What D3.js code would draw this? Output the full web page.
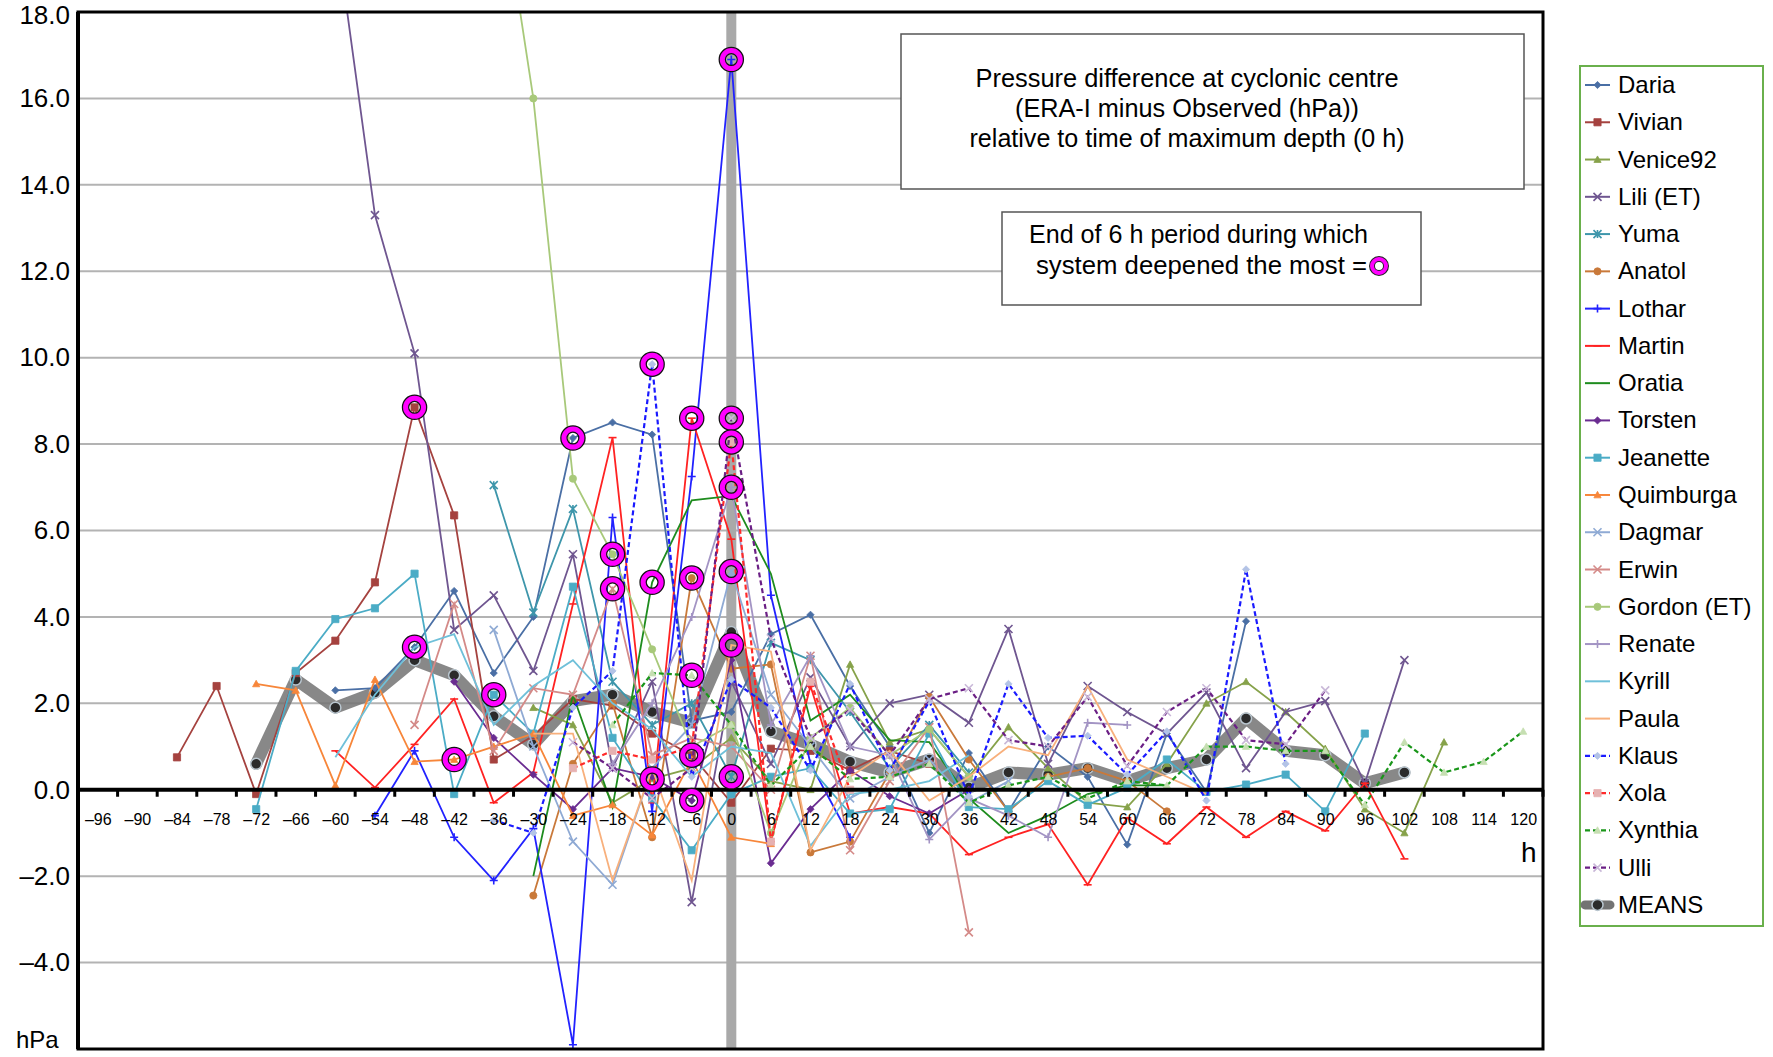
<!DOCTYPE html>
<html>
<head>
<meta charset="utf-8">
<script src="https://cdn.jsdelivr.net/npm/d3@7"></script>
<style>
  body { margin: 0; background: #fff; }
  svg { display: block; font-family: "Liberation Sans", Arial, Helvetica, sans-serif; }
</style>
</head>
<body>
<svg id="chart" width="1773" height="1057"></svg>
<script>
// categories (hours relative to max depth) and tick values
var hours = d3.range(-96, 121, 6);
var yTicks = [-4, -2, 0, 2, 4, 6, 8, 10, 12, 14, 16, 18];
var yTickLabels = ["–4.0", "–2.0", "0.0", "2.0", "4.0", "6.0", "8.0", "10.0", "12.0", "14.0", "16.0", "18.0"];
var xTickLabels = hours.map(function(h) { return h < 0 ? "–" + (-h) : "" + h; });

// series values: [hour, hPa]
var daria = [[-60,2.3],[-54,2.35],[-48,3.3],[-42,4.6],[-36,2.7],[-30,4.0],[-24,8.14],[-18,8.5],[-12,8.22],[-6,1.6],[0,1.8],[6,3.6],[12,4.05],[18,2.4],[24,1.0],[30,-1.0],[36,0.85],[42,-0.5],[48,1.0],[54,0.3],[60,-1.27],[66,1.3],[72,-0.05],[78,3.9]];
var vivian = [[-84,0.75],[-78,2.4],[-72,-0.1],[-66,2.7],[-60,3.45],[-54,4.8],[-48,8.85],[-42,6.35],[-36,0.7],[-30,1.25],[-24,2.1],[-18,1.95],[-12,1.3],[-6,0.8],[0,-0.3],[6,0.95],[12,0.9],[18,0.45],[24,0.9],[30,0.6]];
var venice92 = [[-30,1.9],[-24,1.5],[-18,-0.3],[-12,0.25],[-6,0.5],[0,1.2],[6,0.2],[12,0.0],[18,2.9],[24,1.1],[30,1.4],[36,0.3],[42,1.45],[48,0.5],[54,-0.3],[60,-0.4],[66,0.6],[72,2.0],[78,2.5],[84,1.8],[90,0.95],[96,-0.45],[102,-1.0],[108,1.1]];
var lili = [[-60,20.0],[-54,13.3],[-48,10.1],[-42,3.7],[-36,4.5],[-30,2.75],[-24,5.45],[-18,0.5],[-12,2.5],[-6,-2.6],[0,2.5],[6,0.6],[12,2.6],[18,1.0],[24,2.0],[30,2.2],[36,1.55],[42,3.72],[48,0.6],[54,2.4],[60,1.8],[66,1.3],[72,2.25],[78,0.5],[84,1.8],[90,2.05],[96,0.15],[102,3.0]];
var yuma = [[-36,7.05],[-30,4.1],[-24,6.5],[-18,2.5],[-12,1.5],[-6,2.0],[0,0.3],[6,3.4],[12,3.0],[18,1.8],[24,0.5],[30,1.5],[36,0.4]];
var anatol = [[-30,-2.45],[-24,0.6],[-18,2.0],[-12,-1.1],[-6,4.9],[0,2.8],[6,2.9],[12,-1.45],[18,-1.2],[24,0.4],[30,2.15],[36,0.7],[42,-0.5],[48,0.3],[54,0.5],[60,0.2],[66,-0.5]];
var lothar = [[-54,-0.6],[-48,0.9],[-42,-1.1],[-36,-2.1],[-30,-0.9],[-24,-5.9],[-18,6.3],[-12,-0.5],[-6,7.25],[0,16.9],[6,4.5],[12,0.6],[18,-1.1]];
var martin = [[-60,0.9],[-54,0.05],[-48,1.05],[-42,2.1],[-36,-0.3],[-30,0.4],[-24,4.3],[-18,8.15],[-12,-0.3],[-6,8.6],[0,5.8],[6,-1.2],[12,2.4],[18,-0.55],[24,-0.4],[30,-0.55],[36,-1.5],[42,-1.1],[48,-0.8],[54,-2.2],[60,-0.65],[66,-1.25],[72,-0.4],[78,-1.1],[84,-0.5],[90,-0.95],[96,0.15],[102,-1.6]];
var oratia = [[-30,-2.0],[-24,2.2],[-18,-0.4],[-12,4.8],[-6,6.7],[0,6.8],[6,5.0],[12,1.6],[18,2.2],[24,1.15],[30,1.1],[36,-0.2],[42,-1.0],[48,-0.6],[54,-0.1],[60,0.1],[66,0.1]];
var torsten = [[-42,2.5],[-36,1.2],[-30,0.35],[-24,-0.45],[-18,0.5],[-12,0.3],[-6,-0.25],[0,3.0],[6,-1.7],[12,-0.45],[18,0.45],[24,-0.15],[30,-0.55],[36,0.0]];
var jeanette = [[-72,-0.45],[-66,2.75],[-60,3.95],[-54,4.2],[-48,5.0],[-42,-0.1],[-36,2.2],[-30,1.3],[-24,4.7],[-18,1.2],[-12,-0.2],[-6,-1.4],[0,-0.1],[6,0.3],[12,0.5],[18,-0.55],[24,-0.45],[30,1.3],[36,-0.4],[42,-0.45],[48,0.2],[54,-0.35],[60,0.05],[66,0.7],[72,-0.05],[78,0.12],[84,0.35],[90,-0.5],[96,1.3]];
var quimburga = [[-72,2.45],[-66,2.3],[-60,0.1],[-54,2.55],[-48,0.65],[-42,0.7],[-36,1.0],[-30,1.3],[-24,-0.6],[-18,-0.35],[-12,-1.05],[-6,0.7],[0,-1.1],[6,-1.25]];
var dagmar = [[-36,3.7],[-30,1.0],[-24,-1.2],[-18,-2.2],[-12,0.5],[-6,1.5],[0,5.05],[6,2.2],[12,1.0],[18,-0.2],[24,0.3],[30,0.7],[36,-0.3],[42,0.2]];
var erwin = [[-48,1.5],[-42,4.3],[-36,0.9],[-30,2.35],[-24,2.2],[-18,4.65],[-12,0.8],[-6,1.2],[0,1.0],[6,0.0],[12,3.1],[18,-1.4],[24,0.2],[30,1.45],[36,-3.3]];
var gordon = [[-36,22.0],[-30,16.0],[-24,7.2],[-18,5.45],[-12,3.25],[-6,1.0],[0,1.5],[6,-1.0],[12,1.2],[18,1.9],[24,0.8],[30,1.4],[36,0.3]];
var renate = [[-18,0.6],[-12,2.0],[-6,4.0],[0,7.0],[6,1.5],[12,3.1],[18,1.0],[24,0.8],[30,-1.15],[36,-0.2],[42,-0.6],[48,-1.1],[54,1.55],[60,1.5]];
var kyrill = [[-60,0.75],[-54,2.2],[-48,3.3],[-42,3.6],[-36,1.5],[-30,2.4],[-24,3.0],[-18,2.0],[-12,1.4],[-6,0.3],[0,1.0],[6,0.85],[12,-1.3],[18,-0.1],[24,0.0],[30,0.2],[36,0.8]];
var paula = [[-30,1.3],[-24,1.3],[-18,-2.1],[-12,0.5],[-6,-2.1],[0,3.35],[6,3.2],[12,-1.4],[18,0.3],[24,0.9],[30,-0.25],[36,0.3],[42,1.0],[48,0.8],[54,2.4],[60,0.7],[66,0.3],[72,-0.1]];
var klaus = [[-36,-0.7],[-30,-1.0],[-24,1.9],[-18,2.75],[-12,9.85],[-6,0.3],[0,2.55],[6,1.9],[12,0.45],[18,2.45],[24,0.45],[30,2.05],[36,-0.15],[42,2.45],[48,1.2],[54,1.25],[60,0.35],[66,1.35],[72,-0.25],[78,5.1],[84,0.6]];
var xola = [[-24,0.5],[-18,0.9],[-12,0.7],[-6,1.0],[0,8.05],[6,-1.2],[12,2.5],[18,0.0]];
var xynthia = [[-18,1.5],[-12,2.7],[-6,2.65],[0,1.5],[6,0.1],[12,1.0],[18,0.25],[24,0.3],[30,0.6],[36,-0.3],[42,0.1],[48,0.3],[54,-0.2],[60,0.2],[66,0.1],[72,1.0],[78,1.0],[84,0.9],[90,0.9],[96,-0.35],[102,1.1],[108,0.4],[114,0.65],[120,1.35]];
var ulli = [[-24,1.1],[-18,0.5],[-12,-0.2],[-6,0.5],[0,8.6],[6,3.5],[12,1.2],[18,1.85],[24,0.8],[30,2.1],[36,2.35],[42,1.15],[48,1.0],[54,2.15],[60,0.55],[66,1.8],[72,2.35],[78,1.15],[84,1.05],[90,2.3]];
var means = [[-72,0.6],[-66,2.55],[-60,1.9],[-54,2.25],[-48,3.0],[-42,2.65],[-36,1.7],[-30,1.05],[-24,2.05],[-18,2.2],[-12,1.8],[-6,1.55],[0,3.65],[6,1.35],[12,1.05],[18,0.65],[24,0.4],[30,0.7],[36,0.05],[42,0.4],[48,0.35],[54,0.5],[60,0.2],[66,0.5],[72,0.7],[78,1.65],[84,0.9],[90,0.8],[96,0.15],[102,0.4]];

// end of the 6 h period of deepest deepening: [storm, hour]
var deepestRings = [["Vivian",-48],["Kyrill",-48],["Quimburga",-42],["Jeanette",-36],["Daria",-24],["Gordon (ET)",-18],["Erwin",-18],
  ["Klaus",-12],["Oratia",-12],["Venice92",-12],["Martin",-6],["Anatol",-6],["Xynthia",-6],["Vivian",-6],["Torsten",-6],
  ["Lothar",0],["Ulli",0],["Xola",0],["Renate",0],["Dagmar",0],["Paula",0],["Yuma",0]];

var seriesNames = ["Daria","Vivian","Venice92","Lili (ET)","Yuma","Anatol","Lothar","Martin","Oratia","Torsten","Jeanette","Quimburga",
  "Dagmar","Erwin","Gordon (ET)","Renate","Kyrill","Paula","Klaus","Xola","Xynthia","Ulli","MEANS"];
var seriesValues = [daria, vivian, venice92, lili, yuma, anatol, lothar, martin, oratia, torsten, jeanette, quimburga,
  dagmar, erwin, gordon, renate, kyrill, paula, klaus, xola, xynthia, ulli, means];

var seriesStyle = {
  "Daria":       {color: "#4a6fa5", marker: "diamond"},
  "Vivian":      {color: "#a5423f", marker: "square"},
  "Venice92":    {color: "#86a24a", marker: "triangle"},
  "Lili (ET)":   {color: "#6f5690", marker: "x"},
  "Yuma":        {color: "#3e96ab", marker: "star"},
  "Anatol":      {color: "#c9793a", marker: "circle"},
  "Lothar":      {color: "#2222ff", marker: "plus"},
  "Martin":      {color: "#ff2222", marker: "dash"},
  "Oratia":      {color: "#1e8c1e", marker: "none"},
  "Torsten":     {color: "#6a2c91", marker: "diamond"},
  "Jeanette":    {color: "#4bacc6", marker: "square"},
  "Quimburga":   {color: "#f7863a", marker: "triangle"},
  "Dagmar":      {color: "#8faad4", marker: "x"},
  "Erwin":       {color: "#d48a88", marker: "x"},
  "Gordon (ET)": {color: "#a8c97a", marker: "circle"},
  "Renate":      {color: "#a394c4", marker: "plus"},
  "Kyrill":      {color: "#6fc0d9", marker: "none"},
  "Paula":       {color: "#f8b07c", marker: "none"},
  "Klaus":       {color: "#1a1aff", marker: "diamond", dash: true, markerColor: "#b3c3e6"},
  "Xola":        {color: "#ff2a2a", marker: "square", dash: true, markerColor: "#e6b1b1"},
  "Xynthia":     {color: "#1a961a", marker: "triangle", dash: true, markerColor: "#c6dfb2"},
  "Ulli":        {color: "#6b1f85", marker: "x", dash: true, markerColor: "#c9b8d8"},
  "MEANS":       {color: "#737373", marker: "mean"}
};

var svg = d3.select("#chart");
var plot = {left: 78, right: 1543, top: 12, bottom: 1049};

var x = d3.scalePoint().domain(hours).range([plot.left, plot.right]).padding(0.5);
var y = d3.scaleLinear().domain([-6, 18]).range([plot.bottom, plot.top]);
var step = x.step();

svg.append("defs").append("clipPath").attr("id", "plotClip")
  .append("rect")
  .attr("x", plot.left).attr("y", plot.top)
  .attr("width", plot.right - plot.left).attr("height", plot.bottom - plot.top);

// gridlines
svg.append("g").selectAll("line")
  .data(yTicks.filter(function(v) { return v !== 0 && v !== 18; }))
  .enter().append("line")
  .attr("x1", plot.left).attr("x2", plot.right)
  .attr("y1", function(d) { return y(d); }).attr("y2", function(d) { return y(d); })
  .attr("stroke", "#b3b3b3").attr("stroke-width", 2);

// grey band at time of maximum depth
svg.append("rect")
  .attr("x", x(0) - 5).attr("y", plot.top)
  .attr("width", 10).attr("height", plot.bottom - plot.top)
  .attr("fill", "#a9a9a9");

function markerPath(type, s) {
  switch (type) {
    case "diamond": return "M0," + (-s) + "L" + s + ",0L0," + s + "L" + (-s) + ",0Z";
    case "square": return "M" + (-s) + "," + (-s) + "h" + (2 * s) + "v" + (2 * s) + "h" + (-2 * s) + "Z";
    case "triangle": return "M0," + (-s) + "L" + s + "," + (s * 0.8) + "L" + (-s) + "," + (s * 0.8) + "Z";
    case "circle": return d3.symbol(d3.symbolCircle, Math.PI * s * s)();
    case "x": return "M" + (-s) + "," + (-s) + "L" + s + "," + s + "M" + (-s) + "," + s + "L" + s + "," + (-s);
    case "star": return "M" + (-s) + "," + (-s) + "L" + s + "," + s + "M" + (-s) + "," + s + "L" + s + "," + (-s) + "M0," + (-s) + "L0," + s;
    case "plus": return "M" + (-s) + ",0L" + s + ",0M0," + (-s) + "L0," + s;
    case "dash": return "M" + (-s) + ",0L" + s + ",0";
  }
  return "";
}
var filledMarkers = {diamond: true, square: true, triangle: true, circle: true};

function drawMarker(g, name, px, py) {
  var st = seriesStyle[name];
  var mc = st.markerColor || st.color;
  if (st.marker === "mean") {
    g.append("circle").attr("cx", px).attr("cy", py).attr("r", 5.5)
      .attr("fill", "#2b2b2b").attr("stroke", "#b9c6cf").attr("stroke-width", 1.5);
  } else if (st.marker !== "none") {
    var s = filledMarkers[st.marker] ? 3.6 : 4;
    g.append("path").attr("d", markerPath(st.marker, s))
      .attr("transform", "translate(" + px + "," + py + ")")
      .attr("fill", filledMarkers[st.marker] ? mc : "none")
      .attr("stroke", mc).attr("stroke-width", filledMarkers[st.marker] ? 0.8 : 1.6);
  }
}

var line = d3.line()
  .x(function(d) { return x(d[0]); })
  .y(function(d) { return y(d[1]); });

var seriesLayer = svg.append("g").attr("clip-path", "url(#plotClip)");

// means first so the storms sit over the thick grey line
var order = [seriesNames.length - 1].concat(d3.range(seriesNames.length - 1));
order.forEach(function(i) {
  var name = seriesNames[i], st = seriesStyle[name], data = seriesValues[i];
  var g = seriesLayer.append("g");
  if (name === "MEANS") {
    g.append("path").datum(data).attr("d", line)
      .attr("fill", "none").attr("stroke", st.color).attr("stroke-width", 12)
      .attr("stroke-opacity", 0.85).attr("stroke-linejoin", "round").attr("stroke-linecap", "round");
  } else {
    g.append("path").datum(data).attr("d", line)
      .attr("fill", "none").attr("stroke", st.color).attr("stroke-width", st.dash ? 2.2 : 1.8)
      .attr("stroke-dasharray", st.dash ? "5,3" : null);
  }
  data.forEach(function(d) { drawMarker(g, name, x(d[0]), y(d[1])); });
});

// zero axis with ticks between categories
svg.append("line")
  .attr("x1", plot.left).attr("x2", plot.right)
  .attr("y1", y(0)).attr("y2", y(0))
  .attr("stroke", "#000").attr("stroke-width", 4);
svg.append("g").selectAll("line")
  .data(hours)
  .enter().append("line")
  .attr("x1", function(d) { return x(d) + step / 2; })
  .attr("x2", function(d) { return x(d) + step / 2; })
  .attr("y1", y(0)).attr("y2", y(0) + 7)
  .attr("stroke", "#000").attr("stroke-width", 3);

// x tick labels
var xAxis = d3.axisBottom(x).tickSize(0).tickPadding(24)
  .tickFormat(function(d, i) { return xTickLabels[i]; });
var gx = svg.append("g").attr("transform", "translate(0," + y(0) + ")").call(xAxis);
gx.select(".domain").remove();
gx.selectAll("text").attr("font-size", 16).attr("fill", "#000")
  .attr("font-family", "'Liberation Sans', Arial, sans-serif");

// y tick labels
var yAxis = d3.axisLeft(y).tickValues(yTicks).tickSize(0).tickPadding(8)
  .tickFormat(function(d, i) { return yTickLabels[i]; });
var gy = svg.append("g").attr("transform", "translate(" + plot.left + ",0)").call(yAxis);
gy.select(".domain").remove();
gy.selectAll("text").attr("font-size", 26).attr("fill", "#000")
  .attr("font-family", "'Liberation Sans', Arial, sans-serif")
  .attr("dy", function(d) { return d === 18 ? "0.45em" : "0.32em"; });

// plot frame
svg.append("rect")
  .attr("x", plot.left).attr("y", plot.top)
  .attr("width", plot.right - plot.left).attr("height", plot.bottom - plot.top)
  .attr("fill", "none").attr("stroke", "#000").attr("stroke-width", 3);
svg.append("line")
  .attr("x1", plot.left).attr("x2", plot.left).attr("y1", plot.top).attr("y2", plot.bottom)
  .attr("stroke", "#000").attr("stroke-width", 4);

// rings for strongest deepening
var ringLayer = svg.append("g");
deepestRings.forEach(function(r) {
  var vals = seriesValues[seriesNames.indexOf(r[0])];
  var pt = vals.filter(function(d) { return d[0] === r[1]; })[0];
  var cx = x(pt[0]), cy = y(pt[1]);
  ringLayer.append("circle").attr("cx", cx).attr("cy", cy).attr("r", 9)
    .attr("fill", "none").attr("stroke", "#111").attr("stroke-width", 7.5);
  ringLayer.append("circle").attr("cx", cx).attr("cy", cy).attr("r", 9)
    .attr("fill", "none").attr("stroke", "#ff00ff").attr("stroke-width", 5);
});

// axis titles
svg.append("text").attr("x", 16).attr("y", 1048).attr("font-size", 24).text("hPa");
svg.append("text").attr("x", 1521).attr("y", 862).attr("font-size", 28).text("h");

// title box
svg.append("rect").attr("x", 901).attr("y", 34).attr("width", 623).attr("height", 155)
  .attr("fill", "#fff").attr("stroke", "#555").attr("stroke-width", 1.5);
var titleLines = ["Pressure difference at cyclonic centre", "(ERA-I minus Observed (hPa))", "relative to time of maximum depth (0 h)"];
var titleWidths = [423, 344, 435];
svg.append("g").selectAll("text")
  .data(titleLines)
  .enter().append("text")
  .attr("x", 1187).attr("y", function(d, i) { return 87 + i * 30; })
  .attr("text-anchor", "middle").attr("font-size", 25)
  .attr("textLength", function(d, i) { return titleWidths[i]; })
  .attr("lengthAdjust", "spacingAndGlyphs")
  .text(function(d) { return d; });

// note box
svg.append("rect").attr("x", 1002).attr("y", 212).attr("width", 419).attr("height", 93)
  .attr("fill", "#fff").attr("stroke", "#555").attr("stroke-width", 1.5);
svg.append("text").attr("x", 1029).attr("y", 243).attr("font-size", 25)
  .attr("textLength", 339).attr("lengthAdjust", "spacingAndGlyphs")
  .text("End of 6 h period during which");
svg.append("text").attr("x", 1036).attr("y", 274).attr("font-size", 25)
  .attr("textLength", 331).attr("lengthAdjust", "spacingAndGlyphs")
  .text("system deepened the  most =");
svg.append("circle").attr("cx", 1379).attr("cy", 266).attr("r", 7)
  .attr("fill", "#fff").attr("stroke", "#222").attr("stroke-width", 6);
svg.append("circle").attr("cx", 1379).attr("cy", 266).attr("r", 7)
  .attr("fill", "none").attr("stroke", "#ff00ff").attr("stroke-width", 4);

// legend
svg.append("rect").attr("x", 1580).attr("y", 66).attr("width", 183).attr("height", 860)
  .attr("fill", "#fff").attr("stroke", "#6ab04c").attr("stroke-width", 2);
var legend = svg.append("g");
seriesNames.forEach(function(name, i) {
  var st = seriesStyle[name];
  var ly = 85 + i * 37.27;
  legend.append("line").attr("x1", 1585).attr("x2", 1610).attr("y1", ly).attr("y2", ly)
    .attr("stroke", st.color)
    .attr("stroke-width", name === "MEANS" ? 9 : (st.dash ? 2.2 : 2))
    .attr("stroke-linecap", name === "MEANS" ? "round" : "butt")
    .attr("stroke-dasharray", st.dash ? "5,3" : null);
  drawMarker(legend, name, 1597.5, ly);
  legend.append("text").attr("x", 1618).attr("y", ly + 8).attr("font-size", 24).text(name);
});
</script>
</body>
</html>
